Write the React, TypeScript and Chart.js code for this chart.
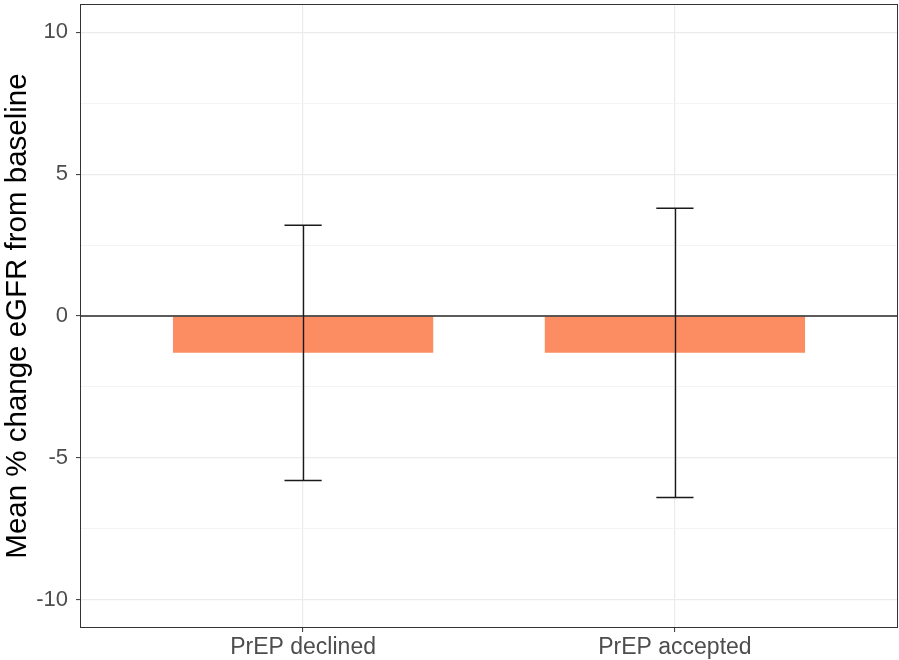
import React, { useEffect, useRef } from 'react';
import { Chart, registerables } from 'chart.js';

Chart.register(...registerables);

// ---- data ----
const categories = ['PrEP declined', 'PrEP accepted'];
const categoryPositions = [1, 2];
const meanChange = [-1.3, -1.3];
const ciLower = [-5.8, -6.4];
const ciUpper = [3.2, 3.8];
const yTickValues = [-10, -7.5, -5, -2.5, 0, 2.5, 5, 7.5, 10];
const yMajorTicks = [-10, -5, 0, 5, 10];
const yRange = [-11, 11];
const xRange = [0.4, 2.6];
const yTitle = 'Mean % change eGFR from baseline';

const FONT = '"Liberation Sans", Arial, Helvetica, sans-serif';
const CAP_HALF = 0.05;

const overlayPlugin = {
  id: 'overlay',
  afterDatasetsDraw(chart: any) {
    const { ctx, chartArea, scales } = chart;
    const x = scales.x;
    const y = scales.y;
    ctx.save();
    // zero reference line
    const y0 = y.getPixelForValue(0);
    ctx.strokeStyle = '#2a2a2a';
    ctx.lineWidth = 1.6;
    ctx.beginPath();
    ctx.moveTo(chartArea.left, y0);
    ctx.lineTo(chartArea.right, y0);
    ctx.stroke();
    // error bars
    ctx.strokeStyle = '#1a1a1a';
    ctx.lineWidth = 1.4;
    categoryPositions.forEach((pos, i) => {
      const px = Math.round(x.getPixelForValue(pos)) + 0.5;
      const pl = x.getPixelForValue(pos - CAP_HALF);
      const pr = x.getPixelForValue(pos + CAP_HALF);
      const yl = y.getPixelForValue(ciLower[i]);
      const yu = y.getPixelForValue(ciUpper[i]);
      ctx.beginPath();
      ctx.moveTo(px, yu);
      ctx.lineTo(px, yl);
      ctx.moveTo(pl, yu);
      ctx.lineTo(pr, yu);
      ctx.moveTo(pl, yl);
      ctx.lineTo(pr, yl);
      ctx.stroke();
    });
    // panel border
    ctx.strokeStyle = '#333333';
    ctx.lineWidth = 1;
    ctx.strokeRect(
      Math.round(chartArea.left) + 0.5,
      Math.round(chartArea.top) + 0.5,
      Math.round(chartArea.right - chartArea.left) - 1,
      Math.round(chartArea.bottom - chartArea.top) - 1
    );
    ctx.restore();
  },
};

export default function App() {
  const canvasRef = useRef<HTMLCanvasElement | null>(null);

  useEffect(() => {
    document.body.style.margin = '0';
    const canvas = canvasRef.current;
    if (!canvas) return;
    const chart = new Chart(canvas, {
      type: 'bar',
      data: {
        datasets: [
          {
            data: categoryPositions.map((p, i) => ({ x: p, y: meanChange[i] })),
            backgroundColor: '#FC8D62',
            borderWidth: 0,
            categoryPercentage: 1,
            barPercentage: 0.7,
          },
        ],
      },
      options: {
        animation: false,
        responsive: false,
        maintainAspectRatio: false,
        layout: { padding: { top: 4, right: 1, left: 0, bottom: 0 } },
        plugins: {
          legend: { display: false },
          tooltip: { enabled: false },
        },
        scales: {
          x: {
            type: 'linear',
            min: xRange[0],
            max: xRange[1],
            offset: false,
            afterBuildTicks: (scale: any) => {
              scale.ticks = categoryPositions.map((v) => ({ value: v }));
            },
            afterFit: (scale: any) => {
              scale.height = 32;
              scale.paddingLeft = 0;
              scale.paddingRight = 0;
            },
            border: { display: false },
            grid: {
              offset: false,
              color: '#EBEBEB',
              lineWidth: 1.2,
              tickColor: '#333333',
              tickWidth: 1,
              tickLength: 4,
            },
            ticks: {
              autoSkip: false,
              maxRotation: 0,
              padding: 2,
              color: '#4D4D4D',
              font: { family: FONT, size: 23 },
              callback: (value: any) => {
                const idx = categoryPositions.indexOf(Number(value));
                return idx >= 0 ? categories[idx] : '';
              },
            },
          },
          y: {
            type: 'linear',
            min: yRange[0],
            max: yRange[1],
            afterBuildTicks: (scale: any) => {
              scale.ticks = yTickValues.map((v) => ({ value: v }));
            },
            afterFit: (scale: any) => {
              scale.width = 80;
              scale.paddingTop = 0;
              scale.paddingBottom = 0;
            },
            border: { display: false },
            grid: {
              color: (c: any) => (yMajorTicks.includes(c.tick?.value) ? '#EBEBEB' : '#F3F3F3'),
              lineWidth: (c: any) => (yMajorTicks.includes(c.tick?.value) ? 1.2 : 0.9),
              tickColor: (c: any) =>
                yMajorTicks.includes(c.tick?.value) ? '#333333' : 'rgba(0,0,0,0)',
              tickWidth: 1,
              tickLength: 4,
            },
            ticks: {
              autoSkip: false,
              padding: 8,
              color: '#4D4D4D',
              font: { family: FONT, size: 22 },
              callback: (value: any) =>
                yMajorTicks.includes(Number(value)) ? String(value) : '',
            },
            title: {
              display: true,
              text: yTitle,
              color: '#000000',
              font: { family: FONT, size: 29.5 },
              padding: { top: 0, bottom: 0 },
            },
          },
        },
      },
      plugins: [overlayPlugin],
    } as any);
    return () => chart.destroy();
  }, []);

  return (
    <div style={{ width: 899, height: 660 }}>
      <canvas ref={canvasRef} width={899} height={660} style={{ display: 'block' }} />
    </div>
  );
}
